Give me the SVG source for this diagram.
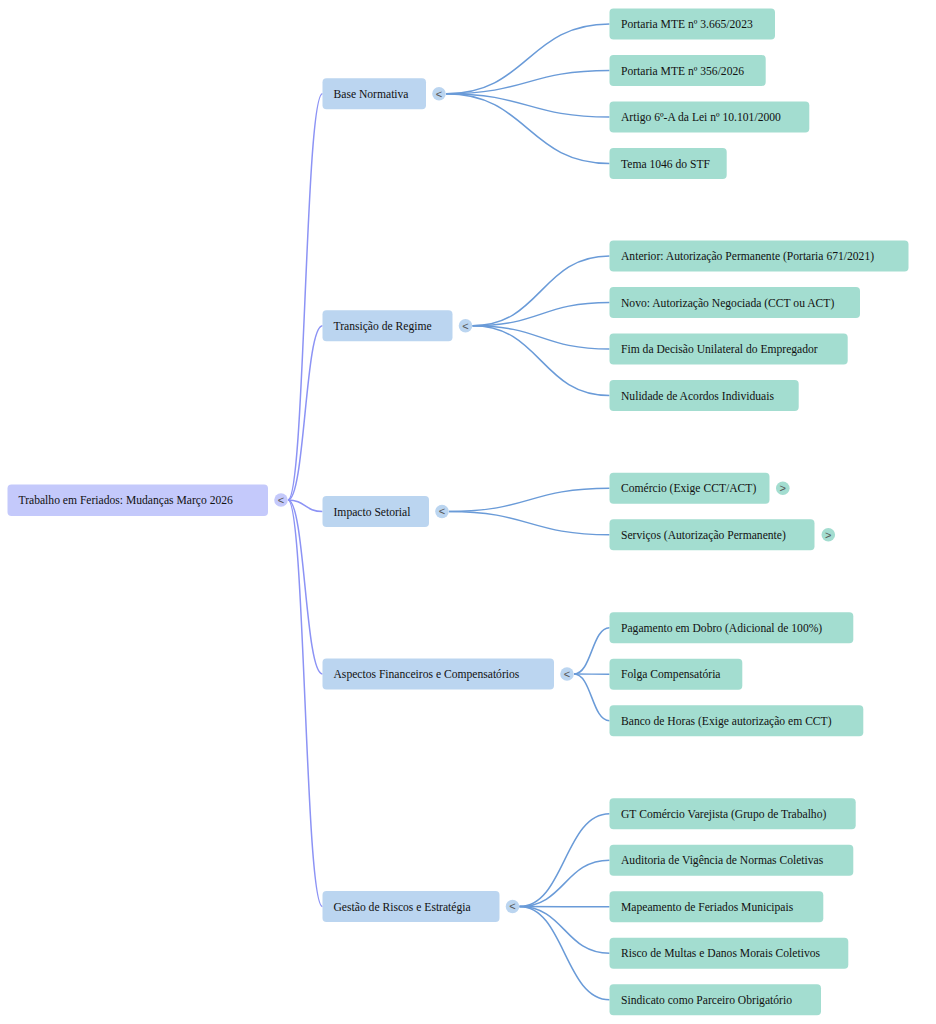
<svg xmlns="http://www.w3.org/2000/svg" width="936" height="1024" viewBox="0 0 936 1024">
<style>
text{font-family:"Liberation Serif","Times New Roman",serif;font-size:11.6px;fill:#111}
.root rect{fill:#c4c9fb}
.l1 rect{fill:#bbd5f0}
.leaf rect{fill:#a3ddd0}
.tog circle{stroke:none}
.tog text{font-family:"Liberation Sans",Arial,sans-serif;font-size:11px;fill:#555;text-anchor:middle}
.rl{fill:none;stroke:#8c93f5;stroke-width:1.5}
.cl{fill:none;stroke:#6a9bd8;stroke-width:1.5}
</style>
<rect width="936" height="1024" fill="#ffffff"/>
<g id="connectors">
<path class="rl" d="M288,500 C305,500 305,93.75 322.5,93.75"/>
<path class="rl" d="M288,500 C305,500 305,325.75 322.5,325.75"/>
<path class="rl" d="M288,500 C305,500 305,511.5 322.5,511.5"/>
<path class="rl" d="M288,500 C305,500 305,674 322.5,674"/>
<path class="rl" d="M288,500 C305,500 305,906.5 322.5,906.5"/>
<path class="cl" d="M446,93.75 C527.75,93.75 527.75,24 609.5,24"/>
<path class="cl" d="M446,93.75 C527.75,93.75 527.75,70.5 609.5,70.5"/>
<path class="cl" d="M446,93.75 C527.75,93.75 527.75,117 609.5,117"/>
<path class="cl" d="M446,93.75 C527.75,93.75 527.75,163.5 609.5,163.5"/>
<path class="cl" d="M472.5,325.75 C541,325.75 541,256 609.5,256"/>
<path class="cl" d="M472.5,325.75 C541,325.75 541,302.5 609.5,302.5"/>
<path class="cl" d="M472.5,325.75 C541,325.75 541,349 609.5,349"/>
<path class="cl" d="M472.5,325.75 C541,325.75 541,395.5 609.5,395.5"/>
<path class="cl" d="M449,511.5 C529.25,511.5 529.25,488.25 609.5,488.25"/>
<path class="cl" d="M449,511.5 C529.25,511.5 529.25,534.75 609.5,534.75"/>
<path class="cl" d="M574,674 C591.75,674 591.75,627.75 609.5,627.75"/>
<path class="cl" d="M574,674 C591.75,674 591.75,674.25 609.5,674.25"/>
<path class="cl" d="M574,674 C591.75,674 591.75,720.75 609.5,720.75"/>
<path class="cl" d="M519.5,906.5 C564.5,906.5 564.5,813.75 609.5,813.75"/>
<path class="cl" d="M519.5,906.5 C564.5,906.5 564.5,860.25 609.5,860.25"/>
<path class="cl" d="M519.5,906.5 C564.5,906.5 564.5,906.75 609.5,906.75"/>
<path class="cl" d="M519.5,906.5 C564.5,906.5 564.5,953.25 609.5,953.25"/>
<path class="cl" d="M519.5,906.5 C564.5,906.5 564.5,999.75 609.5,999.75"/>
</g>
<g id="root" class="root">
<rect x="7.5" y="484.5" width="260.5" height="31.5" rx="4"/>
<text x="18.5" y="504">Trabalho em Feriados: Mudanças Março 2026</text>
<g class="tog"><circle cx="281" cy="500" r="6.8" fill="#c4c9fb"/><text x="281" y="504">&lt;</text></g>
</g>
<g id="n-base" class="l1">
<rect x="322.5" y="78.25" width="103.5" height="31" rx="4"/>
<text x="333.5" y="97.75">Base Normativa</text>
<g class="tog"><circle cx="439" cy="93.75" r="6.8" fill="#bbd5f0"/><text x="439" y="97.5">&lt;</text></g>
</g>
<g id="n-transicao" class="l1">
<rect x="322.5" y="310.25" width="130" height="31" rx="4"/>
<text x="333.5" y="329.75">Transição de Regime</text>
<g class="tog"><circle cx="465.5" cy="325.75" r="6.8" fill="#bbd5f0"/><text x="465.5" y="329.5">&lt;</text></g>
</g>
<g id="n-impacto" class="l1">
<rect x="322.5" y="496" width="106.5" height="31" rx="4"/>
<text x="333.5" y="515.5">Impacto Setorial</text>
<g class="tog"><circle cx="442" cy="511.5" r="6.8" fill="#bbd5f0"/><text x="442" y="515.25">&lt;</text></g>
</g>
<g id="n-aspectos" class="l1">
<rect x="322.5" y="658.5" width="231.5" height="31" rx="4"/>
<text x="333.5" y="678">Aspectos Financeiros e Compensatórios</text>
<g class="tog"><circle cx="567" cy="674" r="6.8" fill="#bbd5f0"/><text x="567" y="677.75">&lt;</text></g>
</g>
<g id="n-gestao" class="l1">
<rect x="322.5" y="891" width="177" height="31" rx="4"/>
<text x="333.5" y="910.5">Gestão de Riscos e Estratégia</text>
<g class="tog"><circle cx="512.5" cy="906.5" r="6.8" fill="#bbd5f0"/><text x="512.5" y="910.25">&lt;</text></g>
</g>
<g id="l-portaria3665" class="leaf"><rect x="609.5" y="8.5" width="165.5" height="31" rx="4"/><text x="621" y="28">Portaria MTE nº 3.665/2023</text></g>
<g id="l-portaria356" class="leaf"><rect x="609.5" y="55" width="156.2" height="31" rx="4"/><text x="621" y="74.5">Portaria MTE nº 356/2026</text></g>
<g id="l-artigo" class="leaf"><rect x="609.5" y="101.5" width="199.8" height="31" rx="4"/><text x="621" y="121">Artigo 6º-A da Lei nº 10.101/2000</text></g>
<g id="l-tema" class="leaf"><rect x="609.5" y="148" width="117.2" height="31" rx="4"/><text x="621" y="167.5">Tema 1046 do STF</text></g>
<g id="l-anterior" class="leaf"><rect x="609.5" y="240.5" width="299" height="31" rx="4"/><text x="621" y="260">Anterior: Autorização Permanente (Portaria 671/2021)</text></g>
<g id="l-novo" class="leaf"><rect x="609.5" y="287" width="250.5" height="31" rx="4"/><text x="621" y="306.5">Novo: Autorização Negociada (CCT ou ACT)</text></g>
<g id="l-fim" class="leaf"><rect x="609.5" y="333.5" width="238.2" height="31" rx="4"/><text x="621" y="353">Fim da Decisão Unilateral do Empregador</text></g>
<g id="l-nulidade" class="leaf"><rect x="609.5" y="380" width="189.2" height="31" rx="4"/><text x="621" y="399.5">Nulidade de Acordos Individuais</text></g>
<g id="l-comercio" class="leaf"><rect x="609.5" y="472.75" width="160" height="31" rx="4"/><text x="621" y="492.25">Comércio (Exige CCT/ACT)</text>
<g class="tog"><circle cx="782.8" cy="488.25" r="6.8" fill="#a3ddd0"/><text x="782.8" y="492">&gt;</text></g></g>
<g id="l-servicos" class="leaf"><rect x="609.5" y="519.25" width="205" height="31" rx="4"/><text x="621" y="538.75">Serviços (Autorização Permanente)</text>
<g class="tog"><circle cx="828.3" cy="534.75" r="6.8" fill="#a3ddd0"/><text x="828.3" y="538.5">&gt;</text></g></g>
<g id="l-pagamento" class="leaf"><rect x="609.5" y="612.25" width="243.8" height="31" rx="4"/><text x="621" y="631.75">Pagamento em Dobro (Adicional de 100%)</text></g>
<g id="l-folga" class="leaf"><rect x="609.5" y="658.75" width="132.8" height="31" rx="4"/><text x="621" y="678.25">Folga Compensatória</text></g>
<g id="l-banco" class="leaf"><rect x="609.5" y="705.25" width="253.8" height="31" rx="4"/><text x="621" y="724.75">Banco de Horas (Exige autorização em CCT)</text></g>
<g id="l-gt" class="leaf"><rect x="609.5" y="798.25" width="246.2" height="31" rx="4"/><text x="621" y="817.75">GT Comércio Varejista (Grupo de Trabalho)</text></g>
<g id="l-auditoria" class="leaf"><rect x="609.5" y="844.75" width="243.8" height="31" rx="4"/><text x="621" y="864.25">Auditoria de Vigência de Normas Coletivas</text></g>
<g id="l-mapeamento" class="leaf"><rect x="609.5" y="891.25" width="213.8" height="31" rx="4"/><text x="621" y="910.75">Mapeamento de Feriados Municipais</text></g>
<g id="l-risco" class="leaf"><rect x="609.5" y="937.75" width="238.8" height="31" rx="4"/><text x="621" y="957.25">Risco de Multas e Danos Morais Coletivos</text></g>
<g id="l-sindicato" class="leaf"><rect x="609.5" y="984.25" width="211.5" height="31" rx="4"/><text x="621" y="1003.75">Sindicato como Parceiro Obrigatório</text></g>
</svg>
